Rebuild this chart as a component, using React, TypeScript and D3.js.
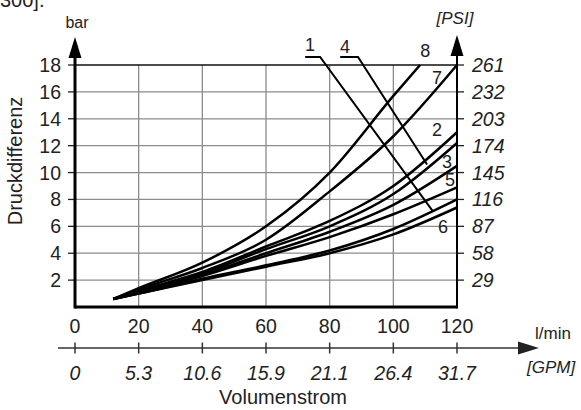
import { useEffect, useRef } from 'react';
import * as d3 from 'd3';

// Volumenstrom (l/min) sampling points
const flow = [12, 20, 40, 60, 80, 100, 120];

// Druckdifferenz (bar) per curve
const curve1 = [0.6, 1.0, 2.1, 3.1, 4.2, 5.8, 8.0];
const curve2 = [0.6, 1.2, 2.6, 4.5, 6.4, 9.0, 13.0];
const curve3 = [0.6, 1.1, 2.4, 4.0, 5.6, 7.6, 10.5];
const curve4 = [0.6, 1.15, 2.5, 4.3, 6.0, 8.4, 12.2];
const curve5 = [0.6, 1.05, 2.3, 3.8, 5.2, 6.9, 8.9];
const curve6 = [0.6, 1.0, 2.0, 3.0, 4.0, 5.4, 7.4];
const curve7 = [0.6, 1.3, 2.9, 5.0, 8.6, 12.7, 18.0];
const flow8 = [12, 20, 40, 60, 80, 100, 108.4];
const curve8 = [0.6, 1.4, 3.3, 6.0, 10.0, 15.7, 18.0];

const barTicks = [2, 4, 6, 8, 10, 12, 14, 16, 18];
const psiTicks = ['29', '58', '87', '116', '145', '174', '203', '232', '261'];
const lminTicks = [0, 20, 40, 60, 80, 100, 120];
const gpmTicks = ['0', '5.3', '10.6', '15.9', '21.1', '26.4', '31.7'];

// curve label name, label position (l/min, bar)
const labelNames = ['8', '7', '2', '3', '5', '6', '1', '4'];
const labelX = [110, 113.7, 113.7, 116.9, 117.8, 115.6, 73.8, 84.8];
const labelY = [19.1, 17.1, 13.2, 10.8, 9.45, 5.95, 19.5, 19.35];

// leader lines for labels 1 and 4: start, kink, end on curve
const leader1 = [[72.3, 18.6], [77.0, 18.6], [112.5, 7.1]];
const leader4 = [[83.3, 18.6], [88.9, 18.6], [110.6, 10.6]];

export default function App() {
  const svgRef = useRef<SVGSVGElement>(null);

  useEffect(() => {
    const svg = d3.select(svgRef.current);
    svg.selectAll('*').remove();

    const font = 'Liberation Sans, Arial, sans-serif';
    const x = d3.scaleLinear().domain([0, 120]).range([75, 457]);
    const y = d3.scaleLinear().domain([0, 18]).range([307, 65]);
    const big = 19.5;

    const g = svg.append('g').attr('font-family', font);

    // cut-off caption from the page above
    g.append('text').attr('x', 0).attr('y', 7).attr('font-size', 20).attr('fill', '#222').text('300].');

    // grid
    g.selectAll('.vgrid')
      .data(lminTicks.slice(1, -1))
      .enter()
      .append('line')
      .attr('x1', d => x(d)).attr('x2', d => x(d))
      .attr('y1', y(0)).attr('y2', y(18))
      .attr('stroke', '#8c8c8c').attr('stroke-width', 1.3);

    g.selectAll('.hgrid')
      .data(barTicks)
      .enter()
      .append('line')
      .attr('x1', x(0)).attr('x2', x(120))
      .attr('y1', d => y(d)).attr('y2', d => y(d))
      .attr('stroke', d => (d === 18 ? '#111' : '#8c8c8c'))
      .attr('stroke-width', 1.3);

    // left axis ticks + labels
    g.selectAll('.ltick')
      .data(barTicks)
      .enter()
      .append('line')
      .attr('x1', x(0) - 7).attr('x2', x(0))
      .attr('y1', d => y(d)).attr('y2', d => y(d))
      .attr('stroke', '#222').attr('stroke-width', 1.3);
    g.selectAll('.llab')
      .data(barTicks)
      .enter()
      .append('text')
      .attr('x', x(0) - 14)
      .attr('y', d => y(d))
      .attr('dy', '0.36em')
      .attr('text-anchor', 'end')
      .attr('font-size', big)
      .attr('fill', '#222')
      .text(d => d);

    // right axis ticks + labels
    g.selectAll('.rtick')
      .data(barTicks)
      .enter()
      .append('line')
      .attr('x1', x(120)).attr('x2', x(120) + 7)
      .attr('y1', d => y(d)).attr('y2', d => y(d))
      .attr('stroke', '#222').attr('stroke-width', 1.3);
    g.selectAll('.rlab')
      .data(psiTicks)
      .enter()
      .append('text')
      .attr('x', x(120) + 15)
      .attr('y', (d, i) => y(barTicks[i]))
      .attr('dy', '0.36em')
      .attr('font-size', big)
      .attr('font-style', 'italic')
      .attr('fill', '#222')
      .text(d => d);

    // curves
    const line = d3.line<[number, number]>()
      .x(d => x(d[0]))
      .y(d => y(d[1]))
      .curve(d3.curveMonotoneX);

    const series = [curve1, curve2, curve3, curve4, curve5, curve6, curve7];
    series.forEach(s => {
      g.append('path')
        .attr('d', line(flow.map((f, i) => [f, s[i]] as [number, number])))
        .attr('fill', 'none')
        .attr('stroke', '#000')
        .attr('stroke-width', 2.5);
    });
    g.append('path')
      .attr('d', line(flow8.map((f, i) => [f, curve8[i]] as [number, number])))
      .attr('fill', 'none')
      .attr('stroke', '#000')
      .attr('stroke-width', 2.5);

    // leader lines
    const leader = d3.line<number[]>().x(d => x(d[0])).y(d => y(d[1]));
    [leader1, leader4].forEach(l => {
      g.append('path')
        .attr('d', leader(l))
        .attr('fill', 'none')
        .attr('stroke', '#000')
        .attr('stroke-width', 2);
    });

    // curve labels
    g.selectAll('.clab')
      .data(labelNames)
      .enter()
      .append('text')
      .attr('x', (d, i) => x(labelX[i]))
      .attr('y', (d, i) => y(labelY[i]))
      .attr('dy', '0.36em')
      .attr('text-anchor', 'middle')
      .attr('font-size', 18)
      .attr('fill', '#222')
      .text(d => d);

    // axes lines
    g.append('line')
      .attr('x1', x(0)).attr('x2', x(120))
      .attr('y1', y(0)).attr('y2', y(0))
      .attr('stroke', '#000').attr('stroke-width', 3);
    g.append('line')
      .attr('x1', x(0)).attr('x2', x(0))
      .attr('y1', y(0) + 1.5).attr('y2', 50)
      .attr('stroke', '#000').attr('stroke-width', 3);
    g.append('line')
      .attr('x1', x(120)).attr('x2', x(120))
      .attr('y1', y(0) + 1.5).attr('y2', 50)
      .attr('stroke', '#000').attr('stroke-width', 2);

    // arrows
    g.append('path')
      .attr('d', `M${x(0) - 6.5},58 L${x(0)},37 L${x(0) + 6.5},58 Z`)
      .attr('fill', '#000');
    g.append('path')
      .attr('d', `M${x(120) - 6.5},56 L${x(120)},35 L${x(120) + 6.5},56 Z`)
      .attr('fill', '#000');

    g.append('text').attr('x', x(0) + 2).attr('y', 28).attr('text-anchor', 'middle')
      .attr('font-size', 16).attr('fill', '#222').text('bar');
    g.append('text').attr('x', 455).attr('y', 24).attr('text-anchor', 'middle')
      .attr('font-size', 17).attr('font-style', 'italic').attr('fill', '#222').text('[PSI]');

    // bottom tick labels (l/min)
    g.selectAll('.blab')
      .data(lminTicks)
      .enter()
      .append('text')
      .attr('x', d => x(d))
      .attr('y', 333)
      .attr('text-anchor', 'middle')
      .attr('font-size', big)
      .attr('fill', '#222')
      .text(d => d);

    // second horizontal axis (GPM)
    const ay = 348;
    g.append('line')
      .attr('x1', 58).attr('x2', 520)
      .attr('y1', ay).attr('y2', ay)
      .attr('stroke', '#333').attr('stroke-width', 1.5);
    g.append('path')
      .attr('d', `M518,${ay - 6.5} L539,${ay} L518,${ay + 6.5} Z`)
      .attr('fill', '#222');
    g.selectAll('.gtick')
      .data(lminTicks)
      .enter()
      .append('line')
      .attr('x1', d => x(d)).attr('x2', d => x(d))
      .attr('y1', ay - 5.5).attr('y2', ay + 5.5)
      .attr('stroke', '#333').attr('stroke-width', 1.5);
    g.selectAll('.glab')
      .data(gpmTicks)
      .enter()
      .append('text')
      .attr('x', (d, i) => x(lminTicks[i]))
      .attr('y', 380)
      .attr('text-anchor', 'middle')
      .attr('font-size', big)
      .attr('font-style', 'italic')
      .attr('fill', '#222')
      .text(d => d);

    g.append('text').attr('x', 553).attr('y', 339).attr('text-anchor', 'middle')
      .attr('font-size', 17).attr('fill', '#222').text('l/min');
    g.append('text').attr('x', 527).attr('y', 373)
      .attr('font-size', 17).attr('font-style', 'italic').attr('fill', '#222').text('[GPM]');

    g.append('text').attr('x', 283).attr('y', 404).attr('text-anchor', 'middle')
      .attr('font-size', 20).attr('fill', '#222').text('Volumenstrom');
    g.append('text')
      .attr('transform', 'translate(22,161) rotate(-90)')
      .attr('text-anchor', 'middle')
      .attr('font-size', 20)
      .attr('fill', '#222')
      .text('Druckdifferenz');
  }, []);

  return (
    <svg
      ref={svgRef}
      width={581}
      height={410}
      style={{ position: 'absolute', left: 0, top: 0, background: '#fff' }}
    />
  );
}
